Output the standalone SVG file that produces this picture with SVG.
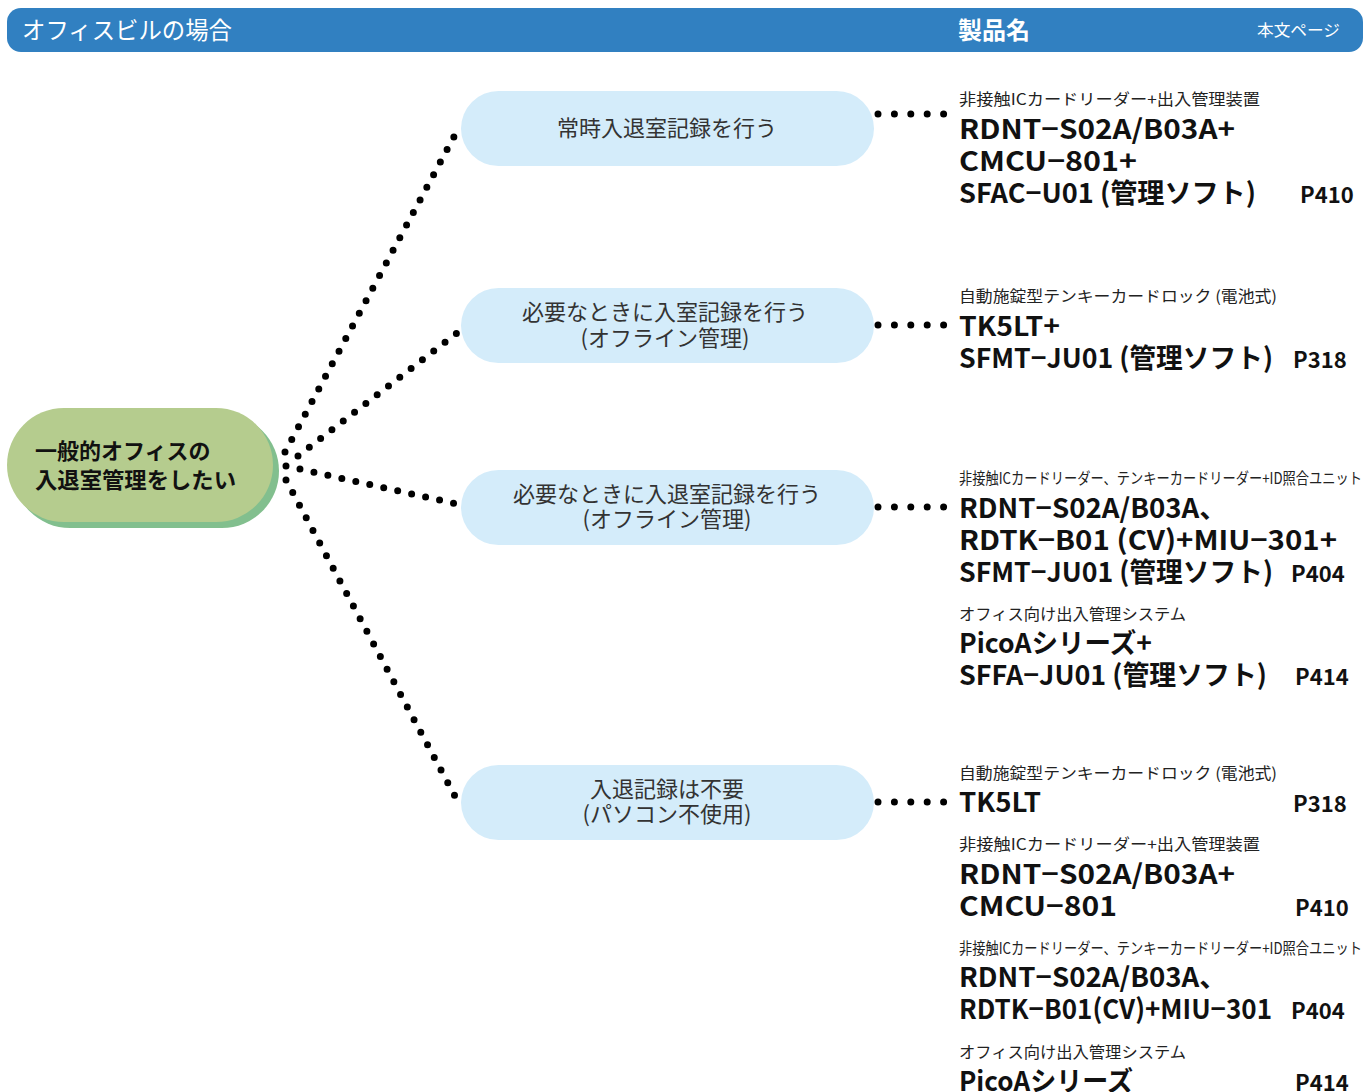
<svg xmlns="http://www.w3.org/2000/svg" width="1363" height="1092" viewBox="0 0 1363 1092">
<style>
.hd{font-family:"Noto Sans CJK JP","Noto Sans",sans-serif;fill:#fff}
.nd{fill:#d4ecfa}
.nt{font-family:"Noto Sans CJK JP","Noto Sans",sans-serif;font-size:22px;fill:#333;text-anchor:middle}
.rt{font-family:"Noto Sans CJK JP","Noto Sans",sans-serif;font-size:22px;font-weight:bold;fill:#111}
.sm{font-family:"Noto Sans CJK JP","Noto Sans",sans-serif;font-size:15.5px;fill:#222}
.bd{font-family:"Noto Sans CJK JP","Noto Sans",sans-serif;font-size:27px;font-weight:bold;fill:#111}
.pg{font-family:"Noto Sans CJK JP","Noto Sans",sans-serif;font-size:22px;font-weight:bold;fill:#111}
.dl{fill:none;stroke:#000;stroke-width:7;stroke-linecap:round;stroke-dasharray:0 14.3}
.dr{fill:none;stroke:#000;stroke-width:7;stroke-linecap:round;stroke-dasharray:0 16.4}
</style>
<rect width="1363" height="1092" fill="#fff"/>
<g id="header">
<rect x="7" y="8" width="1356" height="44" rx="14" fill="#3180c1"/>
<text class="hd" x="22" y="39" font-size="24" textLength="210" lengthAdjust="spacingAndGlyphs">オフィスビルの場合</text>
<text class="hd" x="958" y="39" font-size="24" font-weight="bold">製品名</text>
<text class="hd" x="1257" y="36" font-size="16" textLength="83" lengthAdjust="spacingAndGlyphs">本文ページ</text>
</g>
<g id="connectors">
<path class="dl" d="M285 452 L457 131"/>
<path class="dl" d="M298 456 L457 333"/>
<path class="dl" d="M286 466 L457 504"/>
<path class="dl" d="M286 480 L457 800"/>
<path class="dr" d="M878 114 L944 114"/>
<path class="dr" d="M878 325 L944 325"/>
<path class="dr" d="M878 507 L944 507"/>
<path class="dr" d="M878 802 L944 802"/>
</g>
<g id="root">
<rect x="13" y="414" width="266" height="114" rx="57" fill="#82bf8e"/>
<rect x="7" y="408" width="266" height="114" rx="57" fill="#b5cc8e"/>
<text class="rt" x="35" y="459">一般的オフィスの</text>
<text class="rt" x="35" y="488" textLength="201" lengthAdjust="spacingAndGlyphs">入退室管理をしたい</text>
</g>
<g id="node1">
<rect class="nd" x="461" y="91" width="413" height="75" rx="37.5"/>
<text class="nt" x="667" y="136">常時入退室記録を行う</text>
</g>
<g id="node2">
<rect class="nd" x="461" y="288" width="413" height="75" rx="37.5"/>
<text class="nt" x="665" y="320">必要なときに入室記録を行う</text>
<text class="nt" x="665" y="346">(オフライン管理)</text>
</g>
<g id="node3">
<rect class="nd" x="461" y="470" width="413" height="75" rx="37.5"/>
<text class="nt" x="667" y="502">必要なときに入退室記録を行う</text>
<text class="nt" x="667" y="527">(オフライン管理)</text>
</g>
<g id="node4">
<rect class="nd" x="461" y="765" width="413" height="75" rx="37.5"/>
<text class="nt" x="667" y="797">入退記録は不要</text>
<text class="nt" x="667" y="822">(パソコン不使用)</text>
</g>
<g id="product1">
<text class="sm" x="959" y="105" textLength="301" lengthAdjust="spacingAndGlyphs">非接触ICカードリーダー+出入管理装置</text>
<text class="bd" x="959" y="139" textLength="276" lengthAdjust="spacingAndGlyphs">RDNT−S02A/B03A+</text>
<text class="bd" x="959" y="171" textLength="178" lengthAdjust="spacingAndGlyphs">CMCU−801+</text>
<text class="bd" x="959" y="203" textLength="297" lengthAdjust="spacingAndGlyphs">SFAC−U01 (管理ソフト)</text>
<text class="pg" x="1300" y="203">P410</text>
</g>
<g id="product2">
<text class="sm" x="959" y="302" textLength="318" lengthAdjust="spacingAndGlyphs">自動施錠型テンキーカードロック (電池式)</text>
<text class="bd" x="959" y="336" textLength="101" lengthAdjust="spacingAndGlyphs">TK5LT+</text>
<text class="bd" x="959" y="368" textLength="314" lengthAdjust="spacingAndGlyphs">SFMT−JU01 (管理ソフト)</text>
<text class="pg" x="1293" y="368">P318</text>
</g>
<g id="product3">
<text class="sm" x="959" y="484" textLength="403" lengthAdjust="spacingAndGlyphs">非接触ICカードリーダー、テンキーカードリーダー+ID照合ユニット</text>
<text class="bd" x="959" y="518" textLength="268" lengthAdjust="spacingAndGlyphs">RDNT−S02A/B03A、</text>
<text class="bd" x="959" y="550" textLength="378" lengthAdjust="spacingAndGlyphs">RDTK−B01 (CV)+MIU−301+</text>
<text class="bd" x="959" y="582" textLength="314" lengthAdjust="spacingAndGlyphs">SFMT−JU01 (管理ソフト)</text>
<text class="pg" x="1291" y="582">P404</text>
<text class="sm" x="959" y="620" textLength="227" lengthAdjust="spacingAndGlyphs">オフィス向け出入管理システム</text>
<text class="bd" x="959" y="653" textLength="193" lengthAdjust="spacingAndGlyphs">PicoAシリーズ+</text>
<text class="bd" x="959" y="685" textLength="308" lengthAdjust="spacingAndGlyphs">SFFA−JU01 (管理ソフト)</text>
<text class="pg" x="1295" y="685">P414</text>
</g>
<g id="product4">
<text class="sm" x="959" y="779" textLength="318" lengthAdjust="spacingAndGlyphs">自動施錠型テンキーカードロック (電池式)</text>
<text class="bd" x="959" y="812" textLength="82" lengthAdjust="spacingAndGlyphs">TK5LT</text>
<text class="pg" x="1293" y="812">P318</text>
<text class="sm" x="959" y="850" textLength="301" lengthAdjust="spacingAndGlyphs">非接触ICカードリーダー+出入管理装置</text>
<text class="bd" x="959" y="884" textLength="276" lengthAdjust="spacingAndGlyphs">RDNT−S02A/B03A+</text>
<text class="bd" x="959" y="916" textLength="158" lengthAdjust="spacingAndGlyphs">CMCU−801</text>
<text class="pg" x="1295" y="916">P410</text>
<text class="sm" x="959" y="954" textLength="403" lengthAdjust="spacingAndGlyphs">非接触ICカードリーダー、テンキーカードリーダー+ID照合ユニット</text>
<text class="bd" x="959" y="987" textLength="268" lengthAdjust="spacingAndGlyphs">RDNT−S02A/B03A、</text>
<text class="bd" x="959" y="1019" textLength="313" lengthAdjust="spacingAndGlyphs">RDTK−B01(CV)+MIU−301</text>
<text class="pg" x="1291" y="1019">P404</text>
<text class="sm" x="959" y="1058" textLength="227" lengthAdjust="spacingAndGlyphs">オフィス向け出入管理システム</text>
<text class="bd" x="959" y="1091" textLength="174" lengthAdjust="spacingAndGlyphs">PicoAシリーズ</text>
<text class="pg" x="1295" y="1091">P414</text>
</g>
</svg>
